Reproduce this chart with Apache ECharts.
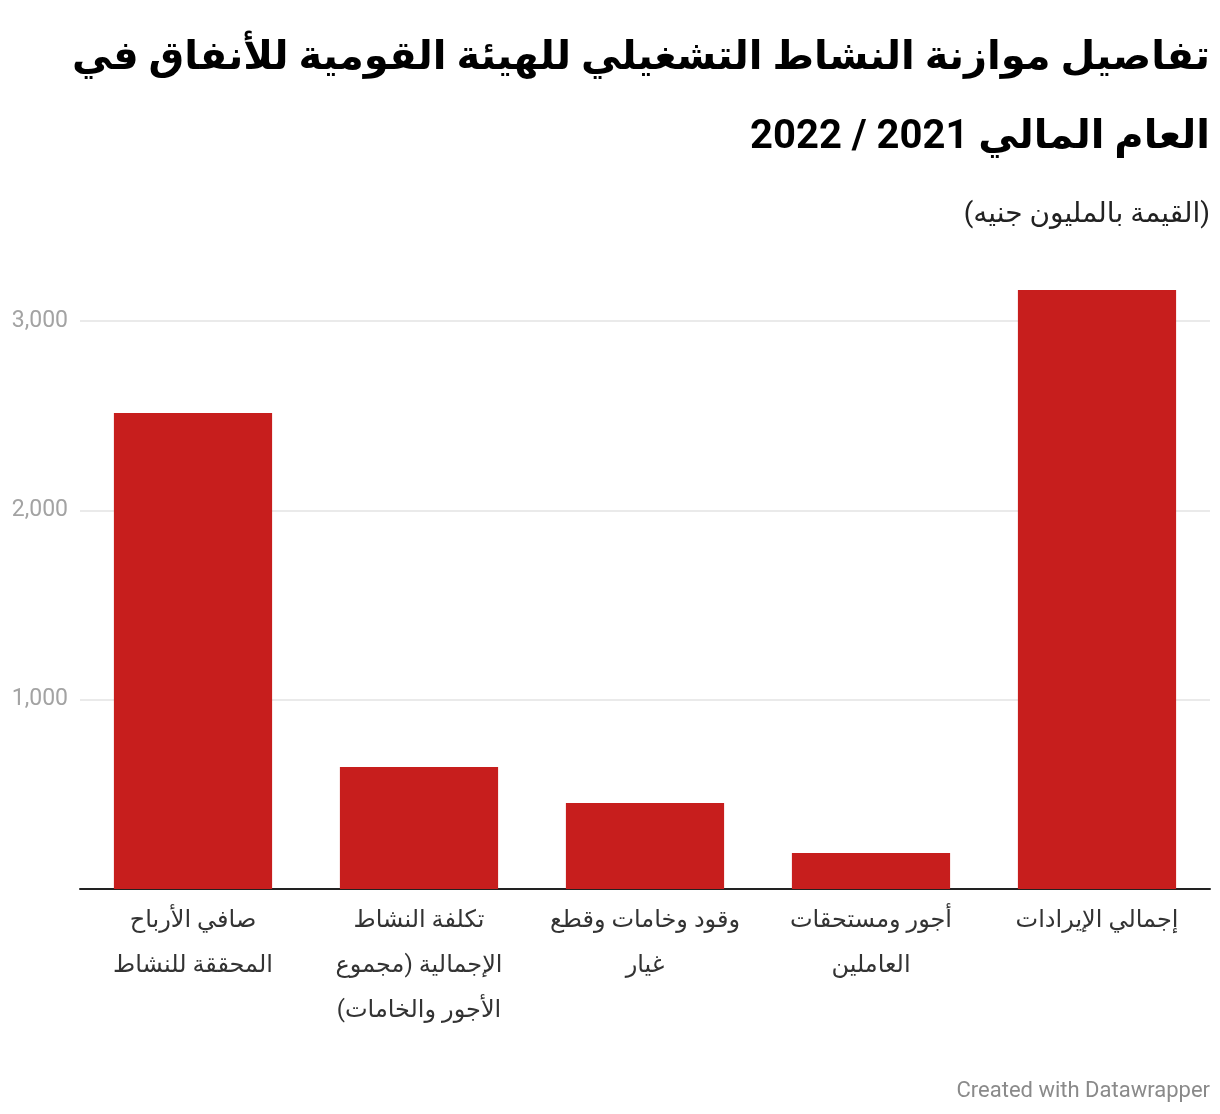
<!DOCTYPE html>
<html dir="rtl">
<head>
<meta charset="utf-8">
<script src="https://cdn.jsdelivr.net/npm/echarts@6/dist/echarts.min.js"></script>
<style>
  html, body { margin: 0; padding: 0; background: #fff; }
  #chart { width: 1220px; height: 1114px; }
</style>
</head>
<body>
<div id="chart"></div>
<script>
// الفئات من اليسار إلى اليمين كما في الصورة
var categories = [
    'صافي الأرباح\nالمحققة للنشاط',
    'تكلفة النشاط\nالإجمالية (مجموع\nالأجور والخامات)',
    'وقود وخامات وقطع\nغيار',
    'أجور ومستحقات\nالعاملين',
    'إجمالي الإيرادات'
];
// القيمة بالمليون جنيه
var values = [2514, 644, 454, 190, 3164];
var yTicks = [0, 1000, 2000, 3000];

// العنوان على سطرين، كل سطر محاذى لليمين
var titleLines = [
    'تفاصيل موازنة النشاط التشغيلي للهيئة القومية للأنفاق في',
    'العام المالي 2021 / 2022'
];
var subtitleText = '(القيمة بالمليون جنيه)';
var footerText = 'Created with Datawrapper';

var fontStack = "Roboto, 'Noto Sans', 'DejaVu Sans', sans-serif";

var titles = titleLines.map(function (line, i) {
    return {
        text: line,
        right: 10,
        top: 27 + i * 79,
        padding: 0,
        textStyle: { fontSize: 40, fontWeight: 'bold', color: '#000', lineHeight: 64, fontFamily: fontStack }
    };
});
titles.push({
    text: subtitleText,
    right: 10,
    top: 201,
    padding: 0,
    textStyle: { fontSize: 28, fontWeight: 'normal', color: '#222', fontFamily: fontStack }
});
titles.push({
    text: footerText,
    right: 10,
    top: 1080,
    padding: 0,
    textStyle: { fontSize: 22, fontWeight: 'normal', color: '#8a8a8a', fontFamily: fontStack }
});

var chart = echarts.init(document.getElementById('chart'));
chart.setOption({
    animation: false,
    backgroundColor: '#fff',
    textStyle: { fontFamily: fontStack },
    title: titles,
    grid: { left: 80, right: 10, top: 321, bottom: 225, containLabel: false },
    xAxis: {
        type: 'category',
        data: categories,
        axisLine: { lineStyle: { color: '#222', width: 2 } },
        axisTick: { show: false },
        axisLabel: {
            interval: 0,
            margin: 9,
            fontSize: 24,
            lineHeight: 45,
            color: '#333',
            fontFamily: fontStack
        }
    },
    yAxis: {
        type: 'value',
        min: yTicks[0],
        max: yTicks[yTicks.length - 1],
        interval: 1000,
        axisLine: { show: false },
        axisTick: { show: false },
        splitLine: { lineStyle: { color: '#e3e3e3', width: 1.5 } },
        axisLabel: {
            margin: 12,
            fontSize: 23,
            color: '#a3a3a3',
            fontFamily: fontStack,
            formatter: function (v) {
                return v === 0 ? '' : v.toLocaleString('en-US');
            }
        }
    },
    series: [{
        type: 'bar',
        data: values,
        clip: false,
        barCategoryGap: '30%',
        itemStyle: { color: '#c71e1d' }
    }]
});
</script>
</body>
</html>
